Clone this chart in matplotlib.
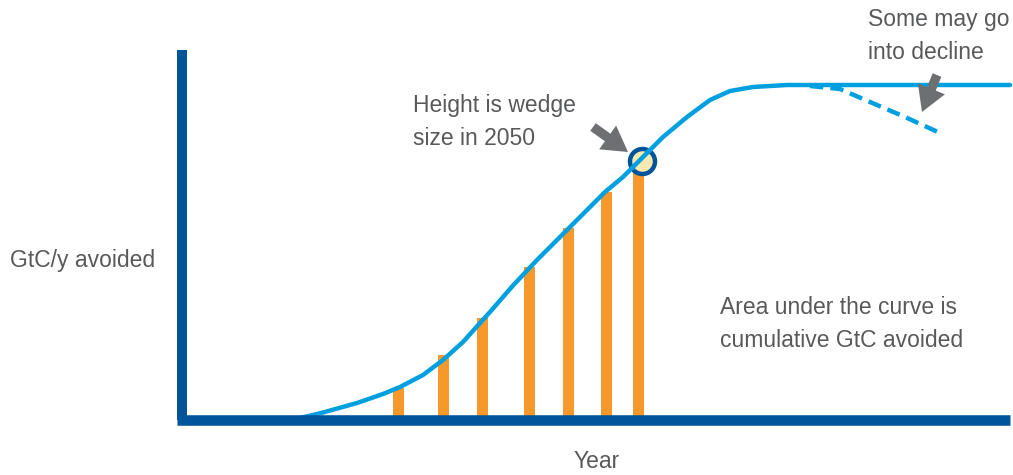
import matplotlib.pyplot as plt

plt.rcParams['font.family'] = ['Liberation Sans', 'DejaVu Sans']

# curve of avoided emissions (x: time, y: GtC/y avoided), origin at axis corner
curve_x = [112, 141, 175, 201, 218, 241, 261, 281, 298, 308, 331, 355, 388, 423,
           441, 458, 481, 505, 528, 548, 571, 605, 655, 828]
curve_y = [0, 7, 16.5, 25.5, 32.5, 44.5, 59.5, 77.5, 96.5, 107.5, 134, 159.5,
           192.5, 227.5, 242.5, 259.5, 282.5, 302.5, 319.5, 328.5, 332.5, 334.5,
           334.5, 334.5]

# declining variant
decline_x = [628, 658, 688, 723, 758]
decline_y = [333.5, 330.5, 317.5, 302.5, 286.5]

# yearly wedge bars
bar_x = [216, 261, 300, 347, 386, 424, 456]
bar_h = [31.5, 64.5, 101.5, 152.5, 191.5, 227.5, 252]

# 2050 marker
mark_x, mark_y = 460, 258.5

axis_blue = '#00549a'
line_blue = '#00a0e0'
orange = '#f7982a'
text_col = '#58595b'
arrow_col = '#6d6f72'

fig = plt.figure(figsize=(10.13, 4.75), dpi=100)
ax = fig.add_axes([0, 0, 1, 1])
ax.set_xlim(-182, 831)
ax.set_ylim(-55.5, 419.5)
ax.axis('off')

ax.bar(bar_x, bar_h, width=11, color=orange, zorder=1)
ax.plot(mark_x, mark_y, 'o', ms=18, mfc='#f7e9b0', mec=axis_blue, mew=3.2, zorder=2)
ax.plot(curve_x, curve_y, color=line_blue, lw=3.2, solid_capstyle='round',
        solid_joinstyle='round', zorder=3)
ax.plot(decline_x, decline_y, color=line_blue, lw=3.2, ls=(0, (3, 1.6)),
        dash_joinstyle='round', zorder=3)

# axes
ax.plot([0, 0], [0, 369.5], color=axis_blue, lw=7.2, solid_capstyle='butt', zorder=4)
ax.plot([-5, 828], [0, 0], color=axis_blue, lw=7.6, solid_capstyle='butt', zorder=4)

# arrows
arr = dict(arrowstyle='simple,head_width=1.4,head_length=1.2,tail_width=0.45',
           fc=arrow_col, ec='none', mutation_scale=15, shrinkA=0, shrinkB=0)
ax.annotate('', xy=(446, 267.5), xytext=(411, 292.5), arrowprops=arr)
ax.annotate('', xy=(740, 307.5), xytext=(755, 344.5), arrowprops=arr)

fs = 16.5
ax.text(-172, 159.5, 'GtC/y avoided', fontsize=fs, color=text_col, va='center')
ax.text(231, 297.5, 'Height is wedge\nsize in 2050', fontsize=fs, color=text_col,
        va='center', linespacing=1.55)
ax.text(686, 383.5, 'Some may go\ninto decline', fontsize=fs, color=text_col,
        va='center', linespacing=1.55)
ax.text(538, 95.5, 'Area under the curve is\ncumulative GtC avoided', fontsize=fs,
        color=text_col, va='center', linespacing=1.55)
ax.text(415, -42.5, 'Year', fontsize=fs, color=text_col, va='center', ha='center')

fig.savefig('out.png', dpi=100)
